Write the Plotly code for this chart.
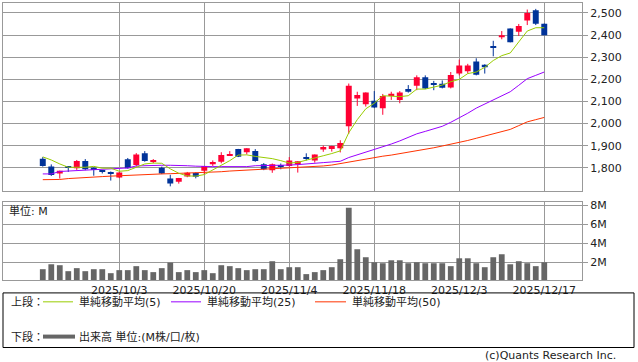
import plotly.graph_objects as go
import numpy as np

dates = ["2025/9/19","2025/9/22","2025/9/24","2025/9/25","2025/9/26","2025/9/29","2025/9/30",
         "2025/10/1","2025/10/2","2025/10/3","2025/10/6","2025/10/7","2025/10/8","2025/10/9",
         "2025/10/10","2025/10/14","2025/10/15","2025/10/16","2025/10/17","2025/10/20",
         "2025/10/21","2025/10/22","2025/10/23","2025/10/24","2025/10/27","2025/10/28",
         "2025/10/29","2025/10/30","2025/10/31","2025/11/4","2025/11/5","2025/11/6","2025/11/7",
         "2025/11/10","2025/11/11","2025/11/12","2025/11/13","2025/11/14","2025/11/17",
         "2025/11/18","2025/11/19","2025/11/20","2025/11/21","2025/11/25","2025/11/26",
         "2025/11/27","2025/11/28","2025/12/1","2025/12/2","2025/12/3","2025/12/4","2025/12/5",
         "2025/12/8","2025/12/9","2025/12/10","2025/12/11","2025/12/12","2025/12/15",
         "2025/12/16","2025/12/17"]

opens  = [1841,1806,1775,1803,1799,1831,1801,1786,1778,1757,1839,1813,1866,1827,1801,1752,1738,1761,1777,1787,
          1817,1828,1854,1885,1871,1876,1817,1790,1808,1809,1817,1845,1834,1883,1886,1889,1988,2114,2088,2103,
          2070,2125,2107,2156,2171,2209,2180,2180,2163,2226,2237,2281,2266,2348,2390,2429,2415,2466,2512,2451]
highs  = [1849,1816,1788,1806,1836,1840,1802,1788,1784,1781,1845,1867,1876,1840,1806,1769,1755,1782,1780,1809,
          1834,1871,1876,1886,1889,1885,1822,1820,1820,1849,1830,1866,1861,1901,1900,1925,2181,2144,2141,2147,
          2134,2144,2147,2174,2218,2218,2193,2195,2233,2289,2270,2295,2268,2374,2418,2430,2450,2515,2518,2452]
lows   = [1806,1764,1752,1782,1791,1790,1765,1775,1743,1754,1797,1806,1828,1821,1772,1717,1729,1758,1753,1772,
          1809,1821,1854,1849,1861,1828,1790,1778,1794,1806,1779,1834,1824,1873,1874,1870,1954,2080,2077,2070,
          2040,2107,2092,2140,2151,2156,2151,2159,2159,2218,2226,2218,2226,2304,2381,2367,2396,2445,2445,2399]
closes = [1809,1768,1787,1800,1831,1794,1795,1783,1776,1779,1799,1861,1831,1830,1775,1730,1755,1778,1760,1809,
          1827,1858,1862,1850,1889,1831,1794,1817,1805,1834,1830,1842,1861,1895,1899,1913,2171,2129,2141,2073,
          2125,2135,2140,2144,2209,2159,2177,2162,2220,2263,2263,2221,2254,2345,2399,2367,2441,2500,2451,2399]

ma5  = [1850,1836,1818,1803,1803,1803,1807,1799,1799,1785,1788,1803,1818,1822,1821,1796,1776,1764,1763,1770,
        1791,1810,1833,1858,1859,1852,1847,1842,1833,1822,1825,1836,1844,1855,1865,1877,1959,2018,2067,2092,
        2126,2125,2122,2126,2156,2156,2166,2174,2189,2200,2226,2233,2254,2285,2307,2319,2369,2418,2433,2433]
ma25 = [1773,1773,1784,1786,1788,1792,1795,1796,1796,1799,1800,1809,1811,1812,1812,1812,1812,1810,1808,1806,
        1806,1806,1806,1806,1806,1810,1810,1810,1810,1813,1815,1817,1820,1824,1827,1830,1847,1859,1870,1882,
        1895,1908,1922,1938,1954,1965,1977,1988,2006,2025,2047,2070,2088,2107,2126,2144,2173,2203,2218,2233]
ma50 = [1747,1747,1748,1752,1755,1757,1758,1761,1763,1765,1767,1770,1771,1772,1773,1774,1775,1776,1777,1778,
        1780,1783,1786,1788,1790,1791,1793,1795,1796,1798,1800,1802,1805,1809,1813,1820,1828,1834,1840,1847,
        1853,1858,1864,1870,1877,1884,1891,1899,1907,1914,1924,1934,1944,1954,1964,1974,1991,2008,2018,2028]

volume_m = [1.29,1.81,1.71,1.08,1.40,1.08,1.29,1.29,0.87,1.19,1.19,1.61,1.19,0.98,1.40,1.99,0.98,1.19,0.98,1.19,
            0.87,1.71,1.61,1.40,1.19,1.29,1.29,2.13,1.29,1.50,1.50,0.77,0.98,1.19,1.50,2.34,7.78,3.39,2.55,2.02,
            1.92,2.23,2.23,1.92,2.02,1.92,1.92,1.92,1.61,2.44,2.44,1.92,1.50,2.55,2.86,1.81,2.13,1.92,1.61,2.02]

tick_dates = ["2025/10/3","2025/10/20","2025/11/4","2025/11/18","2025/12/3","2025/12/17"]
price_ticks = [1800,1900,2000,2100,2200,2300,2400,2500]
vol_ticks = [2,4,6,8]
vol_tick_text = ["2M","4M","6M","8M"]

UP = "#FF0033"
DOWN = "#003399"
GRID = "#999999"
FONT = "DejaVu Sans, Noto Sans CJK JP, sans-serif"

o = np.array(opens, float); c = np.array(closes, float)
h = np.array(highs, float); l = np.array(lows, float)
up = c >= o
base = np.minimum(o, c)
height = np.maximum(np.abs(c - o), 6)

fig = go.Figure()

for mask, col in [(up, UP), (~up, DOWN)]:
    idx = np.where(mask)[0]
    wx, wy = [], []
    for i in idx:
        wx += [dates[i], dates[i], None]
        wy += [l[i], h[i], None]
    fig.add_trace(go.Scatter(x=wx, y=wy, mode="lines", line=dict(color=col, width=1),
                             hoverinfo="skip", showlegend=False, xaxis="x", yaxis="y"))
    fig.add_trace(go.Bar(x=[dates[i] for i in idx], y=height[idx], base=base[idx], width=0.7,
                         marker=dict(color=col, line=dict(width=0)), showlegend=False,
                         xaxis="x", yaxis="y"))

for ma, col in [(ma50, "#FF3300"), (ma25, "#9900FF"), (ma5, "#99CC00")]:
    fig.add_trace(go.Scatter(x=dates, y=ma, mode="lines", line=dict(color=col, width=1),
                             showlegend=False, xaxis="x", yaxis="y"))

fig.add_trace(go.Bar(x=dates, y=volume_m, width=0.68, marker=dict(color="#666666", line=dict(width=0)),
                     showlegend=False, xaxis="x2", yaxis="y2"))

xr = [-4.68, 63.44]
common_x = dict(type="category", range=xr, tickmode="array", tickvals=tick_dates,
                showgrid=True, gridcolor=GRID, gridwidth=1, showline=True, mirror=True,
                linecolor=GRID, linewidth=1, zeroline=False, ticks="",
                categoryorder="array", categoryarray=dates)

H_PLOT = 279.0
def py(p):
    return (280 - p) / H_PLOT
def px(p):
    return (p - 3) / 579.0

fig.update_layout(
    width=638, height=362,
    margin=dict(l=3, r=56, t=1, b=82),
    paper_bgcolor="white", plot_bgcolor="white",
    barmode="overlay",
    font=dict(family=FONT, size=11, color="#222222"),
    xaxis=dict(domain=[0, 1], anchor="y", showticklabels=False, **common_x),
    xaxis2=dict(domain=[0, 1], anchor="y2", showticklabels=True, ticktext=tick_dates,
                tickfont=dict(size=11, color="#222222"), **common_x),
    yaxis=dict(domain=[py(190), 1], anchor="x", side="right", range=[1697.5, 2544.6],
               tickmode="array", tickvals=price_ticks, tickformat=",",
               showgrid=True, gridcolor=GRID, showline=True, mirror=True, linecolor=GRID,
               ticks="outside", ticklen=5, tickcolor=GRID, zeroline=False,
               tickfont=dict(size=11, color="#222222")),
    yaxis2=dict(domain=[0, py(201)], anchor="x2", side="right", range=[0.15, 8.42],
                tickmode="array", tickvals=vol_ticks, ticktext=vol_tick_text,
                showgrid=True, gridcolor=GRID, showline=True, mirror=True, linecolor=GRID,
                ticks="outside", ticklen=5, tickcolor=GRID, zeroline=False,
                tickfont=dict(size=11, color="#222222")),
)

shapes = []
annotations = []
shapes.append(dict(type="rect", xref="paper", yref="paper", x0=px(3), x1=px(634), y0=py(348), y1=py(293),
                   line=dict(color="black", width=1), fillcolor="rgba(0,0,0,0)"))
r1 = py(302); r2 = py(337)
for x0, x1, col in [(43, 73, "#99CC00"), (171, 201, "#9900FF"), (315, 346, "#FF3300")]:
    shapes.append(dict(type="line", xref="paper", yref="paper", x0=px(x0), x1=px(x1), y0=r1, y1=r1,
                       line=dict(color=col, width=1)))
shapes.append(dict(type="line", xref="paper", yref="paper", x0=px(43), x1=px(75), y0=r2, y1=r2,
                   line=dict(color="#666666", width=4)))

def ann(text, x, y, anchor="left", size=11):
    annotations.append(dict(text=text, xref="paper", yref="paper", x=x, y=y, xanchor=anchor,
                            yanchor="middle", showarrow=False, font=dict(size=size, color="#222222")))

ann("上段：", px(9), r1)
ann("単純移動平均(5)", px(77), r1)
ann("単純移動平均(25)", px(205), r1)
ann("単純移動平均(50)", px(350), r1)
ann("下段：", px(9), r2)
ann("出来高 単位:(M株/口/枚)", px(77), r2)
ann("単位: M", px(7), py(210))
ann("(c)Quants Research Inc.", px(618), py(356), anchor="right")

fig.update_layout(shapes=shapes, annotations=annotations)
fig.write_html("out.html", config={"displayModeBar": False},
               post_script="document.body.style.margin='0';document.body.style.padding='0';document.body.style.overflow='hidden';")
